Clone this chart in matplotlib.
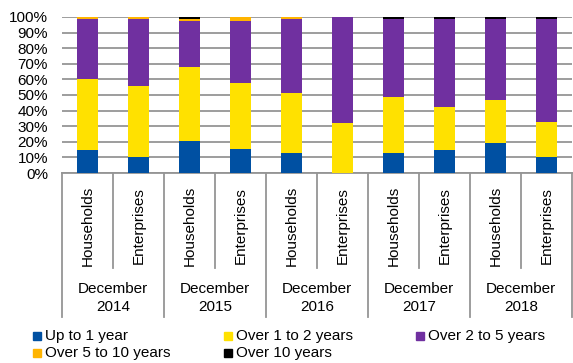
import matplotlib.pyplot as plt
from matplotlib.patches import Rectangle
from matplotlib.transforms import blended_transform_factory

plt.rcParams['font.family'] = ['Liberation Sans', 'DejaVu Sans']

# data (% of loans by original maturity)
sectors = ["Households", "Enterprises"] * 5
years = ["2014", "2015", "2016", "2017", "2018"]
up_to_1 = [14.5, 10.5, 20.5, 15.5, 13.0, 0.0, 13.0, 14.5, 19.0, 10.5]
over_1_2 = [46.0, 45.0, 47.5, 42.5, 38.0, 32.0, 35.5, 27.5, 27.5, 22.5]
over_2_5 = [38.5, 43.0, 29.5, 39.5, 47.5, 68.0, 50.5, 57.0, 52.5, 66.0]
over_5_10 = [1.0, 1.5, 1.3, 2.5, 1.5, 0.0, 0.0, 0.0, 0.0, 0.0]
over_10 = [0.0, 0.0, 1.2, 0.0, 0.0, 0.0, 1.0, 1.0, 1.0, 1.0]

series = [up_to_1, over_1_2, over_2_5, over_5_10, over_10]
names = ["Up to 1 year", "Over 1 to 2 years", "Over 2 to 5 years",
         "Over 5 to 10 years", "Over 10 years"]
colors = ["#0050A2", "#FFE100", "#7030A0", "#FFB400", "#000000"]

fig = plt.figure(figsize=(5.73, 3.63), dpi=100)
ax = fig.add_axes([62/573, 1-173/363, 510/573, 156/363])

x = list(range(len(sectors)))
bottom = [0.0] * len(x)
for vals, c in zip(series, colors):
    ax.bar(x, vals, 0.4, bottom=bottom, color=c, zorder=3)
    bottom = [b + v for b, v in zip(bottom, vals)]

ax.set_xlim(-0.5, len(x) - 0.5)
ax.set_ylim(0, 100)
ax.set_yticks(range(0, 101, 10))
ax.set_yticklabels([f"{v}%" for v in range(0, 101, 10)], fontsize=11)
ax.tick_params(axis='y', length=0, pad=10)
ax.tick_params(axis='x', length=0, labelbottom=False)
ax.yaxis.grid(True, color='#959595', lw=1.3, zorder=0)
for s in ['top', 'right', 'left']:
    ax.spines[s].set_visible(False)
ax.spines['bottom'].set_color('#959595')
ax.spines['bottom'].set_linewidth(1.3)

# two-level category axis
tr = blended_transform_factory(ax.transData, ax.transAxes)
for i, lab in enumerate(sectors):
    ax.text(i, -0.34, lab, rotation=90, ha='center', va='center',
            fontsize=11, transform=tr)
for b in range(len(x) + 1):
    pos = b - 0.5
    low = -0.92 if b % 2 == 0 else -0.61
    ax.plot([pos, pos], [0, low], color='#959595', lw=1.3,
            transform=tr, clip_on=False)
for g, yr in enumerate(years):
    ax.text(2*g + 0.5, -0.745, "December", ha='center', va='center',
            fontsize=11, transform=tr)
    ax.text(2*g + 0.5, -0.86, yr, ha='center', va='center',
            fontsize=11, transform=tr)

# legend, laid out like the original (row-major, 3 columns)
col_x = [33, 224, 416]
row_y = [336, 353]
for k, (n, c) in enumerate(zip(names, colors)):
    cx = col_x[k % 3]
    cy = row_y[k // 3]
    fig.patches.append(Rectangle((cx/573, 1-(cy+4)/363), 8/573, 8/363,
                                 transform=fig.transFigure, color=c))
    fig.text((cx+12)/573, 1-cy/363, n, fontsize=11, va='center', ha='left')

fig.savefig("out.png", dpi=100)
